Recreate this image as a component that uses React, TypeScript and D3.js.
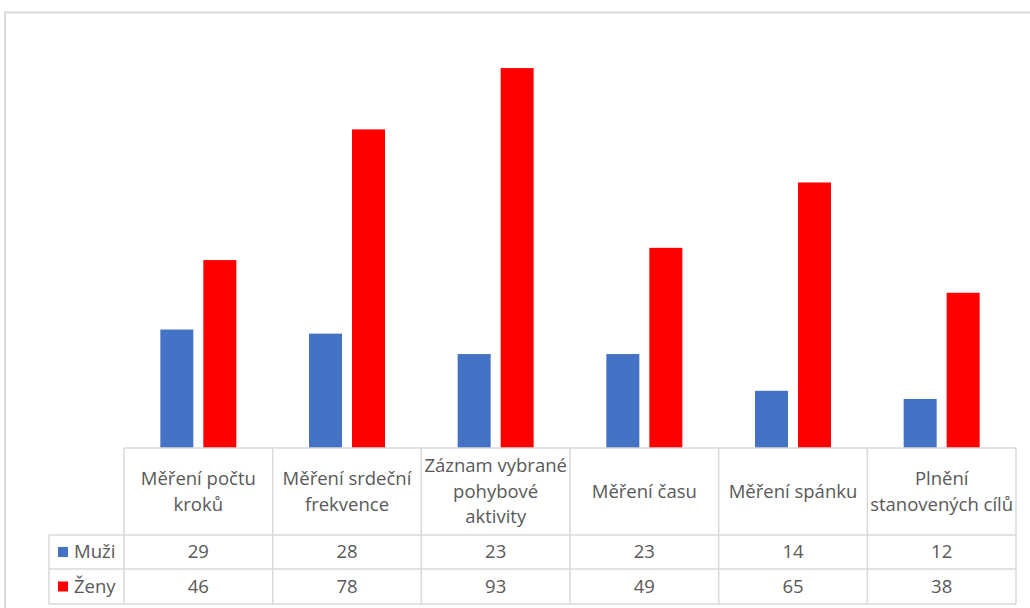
import React from "react";
import * as d3 from "d3";

const categories = [
  ["Měření počtu", "kroků"],
  ["Měření srdeční", "frekvence"],
  ["Záznam vybrané", "pohybové", "aktivity"],
  ["Měření času"],
  ["Měření spánku"],
  ["Plnění", "stanovených cílů"],
];
const muzi = [29, 28, 23, 23, 14, 12];
const zeny = [46, 78, 93, 49, 65, 38];
const seriesNames = ["Muži", "Ženy"];
const colors = ["#4472C4", "#FF0000"];

export default function App() {
  const W = 1030, H = 608;
  const left = 124, right = 1016;
  const baseY = 448;
  const headerBottom = 535, row1Bottom = 569, row2Bottom = 604;
  const legendLeft = 49;
  const font = "Open Sans, Liberation Sans, sans-serif";
  const fs = 18.5;
  const textColor = "#595959";
  const gridColor = "#D9D9D9";

  const x = d3.scaleBand<number>().domain(d3.range(categories.length)).range([left, right]);
  const y = d3.scaleLinear().domain([0, 100]).range([baseY, 39.5]);
  const barW = 33, gap = 10;

  const series = [muzi, zeny];

  return (
    <svg width={W} height={H} style={{ position: "absolute", left: 0, top: 0 }}>
      <rect x={0} y={0} width={W} height={H} fill="#fff" />
      <rect x={5} y={12.5} width={W + 10} height={H} fill="none" stroke={gridColor} strokeWidth={2} />
      {categories.map((_, i) => {
        const cx = x(i)! + x.bandwidth() / 2;
        return series.map((s, k) => {
          const bx = k === 0 ? cx - gap / 2 - barW : cx + gap / 2;
          return (
            <rect key={`${i}-${k}`} x={bx} y={y(s[i])} width={barW} height={baseY - y(s[i])} fill={colors[k]} />
          );
        });
      })}
      <g stroke={gridColor} strokeWidth={1.5} fill="none">
        <line x1={left} x2={right} y1={baseY} y2={baseY} />
        <line x1={legendLeft} x2={right} y1={headerBottom} y2={headerBottom} />
        <line x1={legendLeft} x2={right} y1={row1Bottom} y2={row1Bottom} />
        <line x1={legendLeft} x2={right} y1={row2Bottom} y2={row2Bottom} />
        <line x1={legendLeft} x2={legendLeft} y1={headerBottom} y2={row2Bottom} />
        {d3.range(categories.length + 1).map((i) => {
          const xx = i === categories.length ? right : x(i)!;
          return <line key={i} x1={xx} x2={xx} y1={baseY} y2={row2Bottom} />;
        })}
      </g>
      {categories.map((lines, i) => {
        const cx = x(i)! + x.bandwidth() / 2;
        const lh = 25.5;
        const midY = (baseY + headerBottom) / 2;
        const startY = midY - ((lines.length - 1) * lh) / 2;
        return (
          <text key={i} textAnchor="middle" fontFamily={font} fontSize={fs} fill={textColor}>
            {lines.map((l, j) => (
              <tspan key={j} x={cx} y={startY + j * lh} dy="0.35em">{l}</tspan>
            ))}
          </text>
        );
      })}
      {seriesNames.map((n, k) => {
        const top = k === 0 ? headerBottom : row1Bottom;
        const bottom = k === 0 ? row1Bottom : row2Bottom;
        const cy = (top + bottom) / 2;
        return (
          <g key={n}>
            <rect x={58} y={cy - 5} width={10} height={10} fill={colors[k]} />
            <text x={74} y={cy} dy="0.35em" fontFamily={font} fontSize={fs} fill={textColor}>{n}</text>
          </g>
        );
      })}
      {series.map((s, k) => {
        const top = k === 0 ? headerBottom : row1Bottom;
        const bottom = k === 0 ? row1Bottom : row2Bottom;
        const cy = (top + bottom) / 2;
        return s.map((v, i) => (
          <text key={`${k}-${i}`} x={x(i)! + x.bandwidth() / 2} y={cy} dy="0.35em" textAnchor="middle"
            fontFamily={font} fontSize={fs} fill={textColor}>{v}</text>
        ));
      })}
    </svg>
  );
}
